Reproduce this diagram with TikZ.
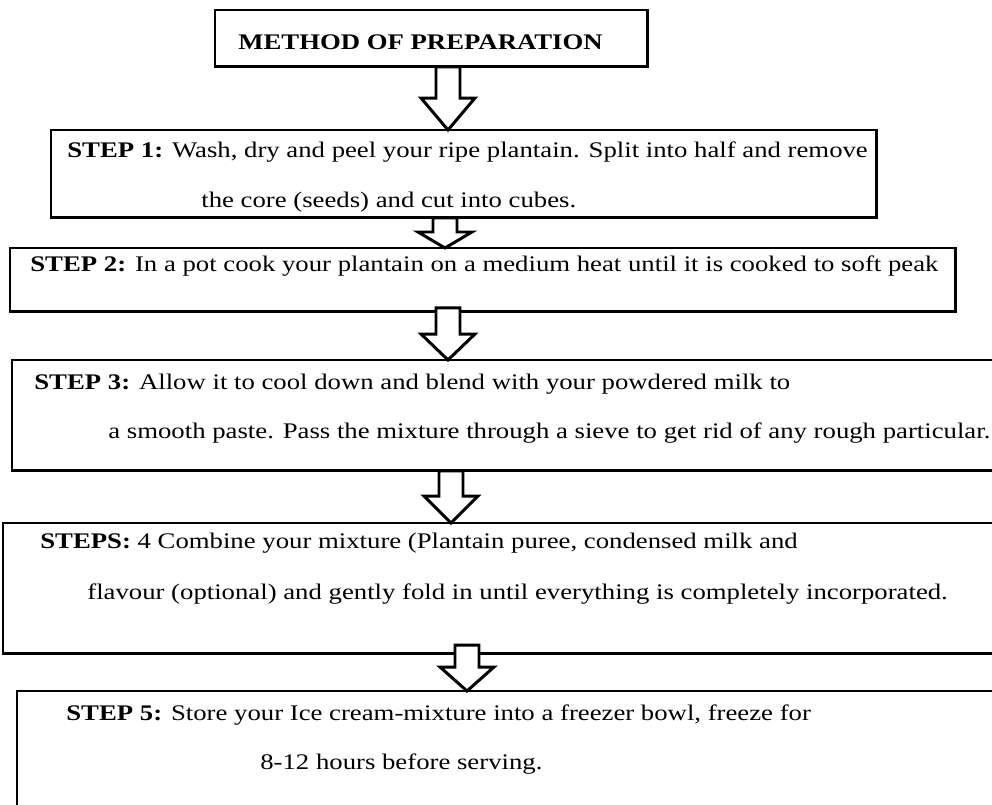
\documentclass[tikz,border=0pt]{standalone}
\usepackage{fontspec}
\setmainfont{Liberation Serif}[FakeStretch=1.2]
\usepackage{tikz}
\usetikzlibrary{calc}

\tikzset{
box/.style={draw, line width=1.7pt, anchor=north west, inner sep=0pt, outer sep=0pt},
txt/.style={anchor=base west, inner sep=0pt, font=\fontsize{12.68pt}{15pt}\selectfont},
fat/.style={draw, fill=white, line width=1.7pt, to path={let \p1=(\tikztostart), \p2=(\tikztotarget) in
  (\x1-0.24cm,\y1) -- (\x1-0.24cm,\y2+#1) -- (\x1-0.54cm,\y2+#1) -- (\x2,\y2)
  -- (\x1+0.54cm,\y2+#1) -- (\x1+0.24cm,\y2+#1) -- (\x1+0.24cm,\y1) -- cycle}}
}

\begin{document}
\begin{tikzpicture}[x=0.02cm, y=-0.02cm]
\useasboundingbox (0,0) rectangle (992,805);

\node[box, minimum width=8.66cm, minimum height=1.14cm] (t) at (215,10) {};
\node[box, minimum width=16.52cm, minimum height=1.76cm] (s1) at (51,130) {};
\node[box, minimum width=18.92cm, minimum height=1.28cm] (s2) at (10,248) {};
\node[box, minimum width=19.76cm, minimum height=2.22cm] (s3) at (12,360) {};
\node[box, minimum width=19.94cm, minimum height=2.62cm] (s4) at (3,523) {};
\node[box, minimum width=19.66cm, minimum height=2.42cm] (s5) at (17,691) {};

\node[txt] (tt) at (238,49) {\textbf{METHOD OF PREPARATION}};
\node[txt] (s1a) at (67,157) {\textbf{STEP 1:} Wash, dry and peel your ripe plantain. Split into half and remove};
\node[txt] (s1b) at (201,207) {the core (seeds) and cut into cubes.};
\node[txt] (s2a) at (30,271) {\textbf{STEP 2:} In a pot cook your plantain on a medium heat until it is cooked to soft peak};
\node[txt] (s3a) at (34,389) {\textbf{STEP 3:} Allow it to cool down and blend with your powdered milk to};
\node[txt] (s3b) at (108,438) {a smooth paste. Pass the mixture through a sieve to get rid of any rough particular.};
\node[txt] (s4a) at (40,548) {\textbf{STEPS:} 4 Combine your mixture (Plantain puree, condensed milk and};
\node[txt] (s4b) at (87,599) {flavour (optional) and gently fold in until everything is completely incorporated.};
\node[txt] (s5a) at (66,720) {\textbf{STEP 5:} Store your Ice cream-mixture into a freezer bowl, freeze for};
\node[txt] (s5b) at (260,769) {8-12 hours before serving.};

\draw[fat=0.64cm] (t.south -| 448,0) to (s1.north -| 448,0);
\draw[fat=0.32cm] (s1.south -| 445,0) to (s2.north -| 445,0);
\draw[fat=0.52cm] ([yshift=2.3pt]s2.south -| 448,0) to (s3.north -| 448,0);
\draw[fat=0.54cm] (s3.south -| 451,0) to (s4.north -| 451,0);
\draw[fat=0.48cm] ([yshift=5pt]s4.south -| 467,0) to (s5.north -| 467,0);
\end{tikzpicture}
\end{document}
